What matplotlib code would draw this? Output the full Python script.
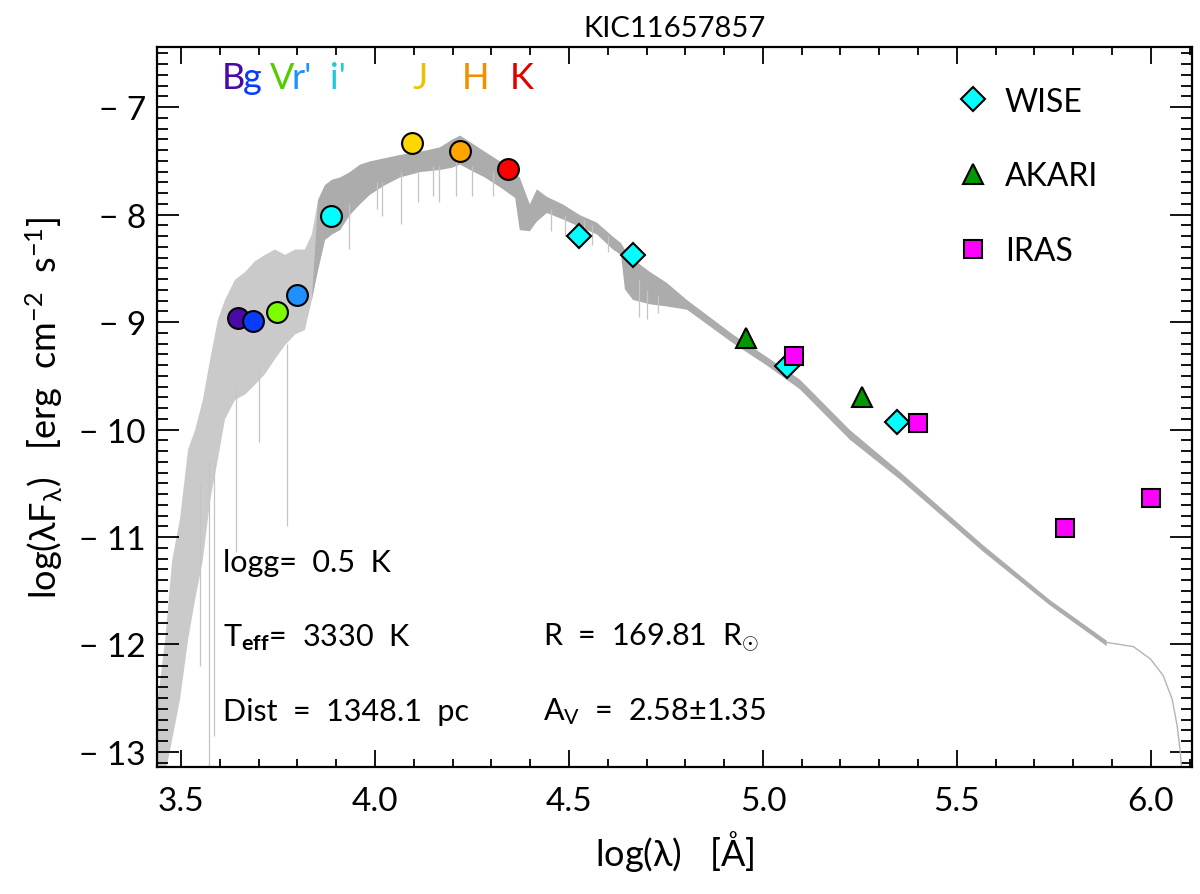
import numpy as np
import matplotlib
matplotlib.use('Agg')
import matplotlib.pyplot as plt

plt.rcParams['font.family'] = ['Lato', 'DejaVu Sans']
plt.rcParams['mathtext.fontset'] = 'custom'
plt.rcParams['mathtext.rm'] = 'Lato'
plt.rcParams['mathtext.it'] = 'Lato'
plt.rcParams['mathtext.bf'] = 'Lato:bold'

# photometry (log lambda, log lambda F_lambda)
phot_labels = ['B', 'g', 'V', "r'", "i'", 'J', 'H', 'K']
phot_x = [3.647, 3.686, 3.747, 3.799, 3.887, 4.095, 4.219, 4.343]
phot_y = [-8.96, -8.99, -8.91, -8.75, -8.01, -7.33, -7.41, -7.58]
phot_colors = ['#4a0aa8', '#0a3cff', '#7cfc00', '#1e90ff', '#00ffff',
               '#ffd700', '#ffa500', '#ff0000']
label_colors = ['#4a0aa8', '#0a3cff', '#55cc00', '#1e90ff', '#20c8dc',
                '#f0c000', '#f09000', '#e00000']
label_x = [3.604, 3.660, 3.728, 3.786, 3.884, 4.098, 4.224, 4.348]

wise_x = [4.526, 4.665, 5.062, 5.345]
wise_y = [-8.20, -8.38, -9.41, -9.93]
akari_x = [4.956, 5.255]
akari_y = [-9.15, -9.70]
iras_x = [5.080, 5.400, 5.778, 6.000]
iras_y = [-9.32, -9.94, -10.92, -10.64]

# model spectrum envelope
spec_x = [3.439, 3.458, 3.476, 3.496, 3.517, 3.535, 3.555, 3.574, 3.594, 3.612,
          3.638, 3.664, 3.689, 3.715, 3.741, 3.767, 3.793, 3.818, 3.836, 3.852,
          3.870, 3.888, 3.909, 3.934, 3.960, 3.986, 4.025, 4.063, 4.115, 4.166,
          4.197, 4.218, 4.244, 4.282, 4.321, 4.360, 4.372, 4.398, 4.416, 4.442,
          4.483, 4.527, 4.571, 4.612, 4.633, 4.643, 4.664, 4.708, 4.751, 4.803,
          4.921, 5.009, 5.094, 5.223, 5.352, 5.566, 5.738, 5.885]
spec_hi = [-12.51, -11.95, -11.21, -10.83, -10.18, -10.00, -9.72, -9.34, -8.97, -8.79,
           -8.60, -8.53, -8.43, -8.37, -8.32, -8.37, -8.32, -8.32, -8.18, -7.86,
           -7.72, -7.67, -7.65, -7.60, -7.53, -7.50, -7.47, -7.44, -7.41, -7.37,
           -7.30, -7.26, -7.32, -7.41, -7.50, -7.62, -7.65, -7.90, -7.76, -7.83,
           -7.90, -8.00, -8.07, -8.20, -8.26, -8.32, -8.41, -8.53, -8.63, -8.79,
           -9.11, -9.32, -9.53, -10.00, -10.39, -11.07, -11.58, -11.96]
spec_lo = [-13.20, -13.20, -12.88, -12.51, -11.95, -11.58, -11.21, -10.65, -10.27, -9.90,
           -9.72, -9.67, -9.58, -9.48, -9.34, -9.21, -9.11, -9.07, -8.79, -8.51,
           -8.23, -8.18, -8.14, -8.00, -7.90, -7.81, -7.72, -7.65, -7.60, -7.58,
           -7.56, -7.53, -7.58, -7.65, -7.74, -7.84, -8.14, -8.15, -8.06, -7.98,
           -8.04, -8.11, -8.18, -8.32, -8.37, -8.69, -8.79, -8.83, -8.85, -8.88,
           -9.19, -9.40, -9.62, -10.09, -10.46, -11.13, -11.63, -12.01]

# deep absorption lines
line_x = [3.548, 3.571, 3.586, 3.643, 3.702, 3.772, 3.934, 4.004, 4.019, 4.068,
          4.110, 4.149, 4.166, 4.210, 4.251, 4.303, 4.455, 4.490, 4.540, 4.560,
          4.600, 4.680, 4.700, 4.730]
line_top = [-10.5, -10.3, -10.3, -9.6, -9.4, -9.2, -7.9, -7.7, -7.7, -7.6,
            -7.6, -7.55, -7.55, -7.5, -7.55, -7.6, -7.95, -8.0, -8.05, -8.1,
            -8.2, -8.6, -8.7, -8.75]
line_bot = [-12.2, -13.13, -12.85, -11.14, -10.12, -10.90, -8.32, -7.95, -8.01, -8.09,
            -7.88, -7.83, -7.88, -7.83, -7.83, -7.83, -8.15, -8.20, -8.25, -8.28,
            -8.35, -8.95, -8.97, -8.92]

# Rayleigh-Jeans tail beyond the model grid
tail_x = [5.885, 5.955, 5.999, 6.032, 6.055, 6.068, 6.076, 6.080]
tail_y = [-11.98, -12.02, -12.135, -12.29, -12.51, -12.76, -13.0, -13.2]

fig = plt.figure(figsize=(12, 8.95), dpi=100)
ax = fig.add_axes([0.1308, 0.1419, 0.8625, 0.8045])

sx = np.array(spec_x)
opt = sx <= 3.87
ax.fill_between(sx, spec_lo, spec_hi, where=opt, color='#cacaca', lw=0, interpolate=True)
ax.fill_between(sx, spec_lo, spec_hi, where=sx >= 3.85, color='#acacac', lw=0, interpolate=True)
ax.vlines(line_x, line_bot, line_top, color='#c4c4c4', lw=0.9)
ax.plot(tail_x, tail_y, color='#b4b4b4', lw=1)

for x, y, c in zip(phot_x, phot_y, phot_colors):
    ax.plot(x, y, 'o', ms=15, mfc=c, mec='black', mew=1.5, zorder=5)
for lab, x, c in zip(phot_labels, label_x, label_colors):
    ax.text(x, -6.72, lab, color=c, fontsize=26, ha='left', va='center')

ax.plot(wise_x, wise_y, 'D', ms=12, mfc='#00ffff', mec='black', mew=1.5, ls='none', zorder=5, label='WISE')
ax.plot(akari_x, akari_y, '^', ms=15, mfc='#009900', mec='black', mew=1.5, ls='none', zorder=5, label='AKARI')
ax.plot(iras_x, iras_y, 's', ms=13, mfc='#ff00ff', mec='black', mew=1.5, ls='none', zorder=5, label='IRAS')

ax.legend(loc='upper left', bbox_to_anchor=(0.745, 0.985), frameon=False, fontsize=23,
          handlelength=1.0, handletextpad=0.5, labelspacing=1.4, numpoints=1)

ax.text(0.064, 0.285, 'logg=  0.5  K', transform=ax.transAxes, fontsize=22, va='center')
ax.text(0.064, 0.181, r'T$_{\mathbf{eff}}$=  3330  K', transform=ax.transAxes, fontsize=22, va='center')
ax.text(0.064, 0.078, 'Dist  =  1348.1  pc', transform=ax.transAxes, fontsize=22, va='center')
ax.text(0.373, 0.181, r'R  =  169.81  R$_{\odot}$', transform=ax.transAxes, fontsize=22, va='center')
ax.text(0.373, 0.078, r'A$_{\mathrm{V}}$  =  2.58$\pm$1.35', transform=ax.transAxes, fontsize=22, va='center')

ax.set_xlim(3.438, 6.106)
ax.set_ylim(-13.14, -6.44)
ax.set_xticks([3.5, 4.0, 4.5, 5.0, 5.5, 6.0])
ax.set_xticks(np.arange(3.5, 6.11, 0.1), minor=True)
ax.set_yticks([-13, -12, -11, -10, -9, -8, -7])
ax.set_yticks(np.arange(-13.1, -6.4, 0.1), minor=True)
ax.set_xticklabels(['3.5', '4.0', '4.5', '5.0', '5.5', '6.0'])
ax.set_yticklabels(['\u2212 13', '\u2212 12', '\u2212 11', '\u2212 10', '\u2212 9', '\u2212 8', '\u2212 7'])
ax.tick_params(which='both', direction='in', top=True, right=True, width=1.3, labelsize=24)
ax.tick_params(axis='x', which='major', length=12, pad=14)
ax.tick_params(axis='x', which='minor', length=6)
ax.tick_params(axis='y', which='major', length=16, pad=8)
ax.tick_params(axis='y', which='minor', length=8)
for sp in ax.spines.values():
    sp.set_linewidth(1.6)

ax.set_xlabel(r'log($\lambda$)   [$\mathrm{\AA}$]', fontsize=26, labelpad=8)
ax.set_ylabel(r'log($\lambda$F$_{\lambda}$)   [erg  cm$^{-2}$  s$^{-1}$]', fontsize=26, labelpad=10)
ax.set_title('KIC11657857', fontsize=21, pad=8)

fig.savefig('out.png', dpi=100)
